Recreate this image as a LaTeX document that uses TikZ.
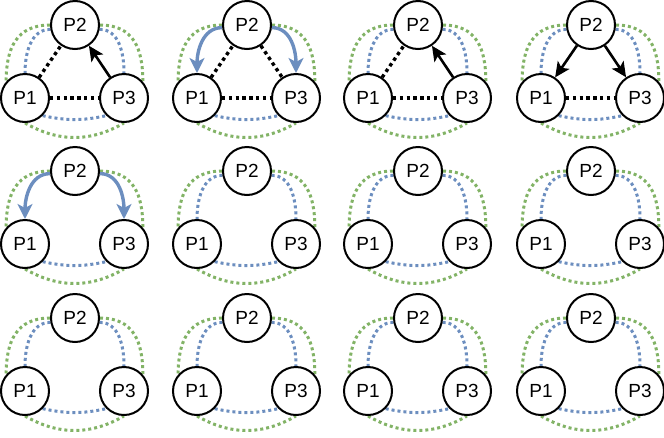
\documentclass[tikz,border=0pt]{standalone}
\usepackage{fontspec}
\setmainfont{Liberation Sans}
\usetikzlibrary{arrows.meta,backgrounds}
\definecolor{dgreen}{HTML}{82B366}
\definecolor{dblue}{HTML}{6C8EBF}
\tikzset{
  x=1pt,y=1pt,
  proc/.style={circle,draw=black,line width=2pt,fill=white,minimum size=48pt,inner sep=0pt,font=\fontsize{19}{21}\selectfont},
  gdot/.style={dgreen,line width=3pt,dash pattern=on 3pt off 3pt},
  bdot/.style={dblue,line width=3pt,dash pattern=on 3pt off 3pt},
  kdot/.style={black,line width=3.4pt,dash pattern=on 3.4pt off 3.4pt},
  karrow/.style={black,line width=2.6pt,-{Stealth[length=15pt,width=14pt,inset=3.5pt]}},
  barrow/.style={dblue,line width=3.4pt,-{Stealth[length=15pt,width=15pt,inset=4pt]}},
}
\newcommand\mypanel[2]{%
  \node[proc] (P2) at (#1,-#2) {P2};
  \node[proc] (P1) at (#1-50,-#2-73) {P1};
  \node[proc] (P3) at (#1+49,-#2-73) {P3};
}
\newcommand\greenarcs{%
  \draw[gdot] (P2.west) to[out=180,in=90,looseness=1.2] (P1.139);
  \draw[gdot] (P2.east) to[out=0,in=90,looseness=1.2] (P3.41);
  \draw[gdot] (P1.south) to[bend right=30] (P3.south);
}
\newcommand\bluebottom{%
  \draw[bdot] (P1.-45) to[bend right=12] (P3.-135);
}
\newcommand\bluesides{%
  \draw[bdot] (P2.190) to[out=180,in=90,looseness=1.0] (P1.north);
  \draw[bdot] (P2.-10) to[out=0,in=90,looseness=1.0] (P3.north);
}
\newcommand\bluearrows{%
  \draw[barrow] (P2.186) to[out=180,in=90,looseness=1.0] (P1.north);
  \draw[barrow] (P2.-6) to[out=0,in=90,looseness=1.0] (P3.north);
}
\begin{document}
\begin{tikzpicture}
\useasboundingbox (0,0) rectangle (664,-437);
% row 1, panel 1
\mypanel{75}{25}
\begin{scope}[on background layer]
  \greenarcs \bluesides \bluebottom
  \draw[kdot] (P1) -- (P2);
  \draw[kdot] (P1) -- (P3);
  \draw[karrow] (P3) -- (P2);
\end{scope}
% row 1, panel 2
\mypanel{247}{25}
\begin{scope}[on background layer]
  \greenarcs \bluebottom \bluearrows
  \draw[kdot] (P1) -- (P2);
  \draw[kdot] (P2) -- (P3);
  \draw[kdot] (P1) -- (P3);
\end{scope}
% row 1, panel 3
\mypanel{418}{25}
\begin{scope}[on background layer]
  \greenarcs \bluesides \bluebottom
  \draw[kdot] (P1) -- (P2);
  \draw[kdot] (P1) -- (P3);
  \draw[karrow] (P3) -- (P2);
\end{scope}
% row 1, panel 4
\mypanel{591}{25}
\begin{scope}[on background layer]
  \greenarcs \bluesides \bluebottom
  \draw[kdot] (P1) -- (P3);
  \draw[karrow] (P2) -- (P1);
  \draw[karrow] (P2) -- (P3);
\end{scope}
% row 2, panel 1
\mypanel{75}{171}
\begin{scope}[on background layer]
  \greenarcs \bluebottom \bluearrows
\end{scope}
% row 2, panels 2-4
\mypanel{247}{171}
\begin{scope}[on background layer]\greenarcs \bluesides \bluebottom\end{scope}
\mypanel{418}{171}
\begin{scope}[on background layer]\greenarcs \bluesides \bluebottom\end{scope}
\mypanel{591}{171}
\begin{scope}[on background layer]\greenarcs \bluesides \bluebottom\end{scope}
% row 3
\mypanel{75}{318}
\begin{scope}[on background layer]\greenarcs \bluesides \bluebottom\end{scope}
\mypanel{247}{318}
\begin{scope}[on background layer]\greenarcs \bluesides \bluebottom\end{scope}
\mypanel{418}{318}
\begin{scope}[on background layer]\greenarcs \bluesides \bluebottom\end{scope}
\mypanel{591}{318}
\begin{scope}[on background layer]\greenarcs \bluesides \bluebottom\end{scope}
\end{tikzpicture}
\end{document}
